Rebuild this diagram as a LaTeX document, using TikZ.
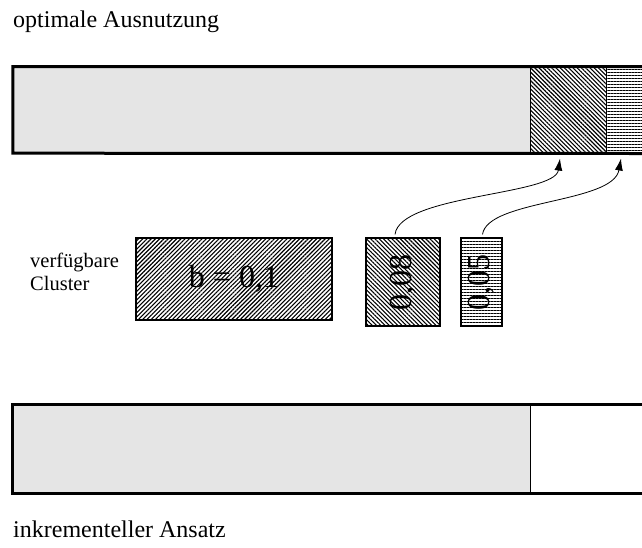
\documentclass[tikz,border=0pt]{standalone}
\usepackage{fontspec}
\setmainfont{Liberation Serif}
\usetikzlibrary{patterns.meta,arrows.meta}
\tikzset{
    seg/.style={inner sep=0pt, minimum height=86pt},
    cluster/.style={draw, line width=1.2pt, inner sep=0pt, font=\fontsize{32}{32}\selectfont},
    lbl/.style={anchor=base west, inner sep=0pt, align=left, font=\fontsize{24}{26}\selectfont},
    move/.style={line width=0.8pt, arrows={-Latex[length=12pt, width=8pt]}},
    belegt/.style={fill=black!10},
    schraeg/.style={pattern={Lines[angle=-45,distance=3pt,line width=1.1pt]}},
    quer/.style={pattern={Lines[angle=0,distance=3pt,line width=1pt]}}
}
\begin{document}
\begin{tikzpicture}[x=1pt,y=-1pt]
            \useasboundingbox (0,0) rectangle (642,547);

            % Texte
            \node[lbl] (titel) at (13,27) {optimale Ausnutzung};
            \node[lbl] (ansatz) at (13,537) {inkrementeller Ansatz};
            \node[lbl, anchor=west, font=\fontsize{20.5}{23}\selectfont] (verf) at (30,272) {verfügbare\\Cluster};

            % Balken oben
            \node[seg, belegt, minimum width=517pt] (oben) at (271.5,110) {};
            \node[seg, schraeg, minimum width=76pt] (hatch) at (568,110) {};
            \node[seg, quer, minimum width=36pt] (streifen) at (624,110) {};
            \draw[line width=1.2pt] (oben.north east) -- (oben.south east);
            \draw[line width=1.2pt] (hatch.north east) -- (hatch.south east);
            \draw[line width=3pt] (streifen.north east) -| (oben.south west) -- (streifen.south east);

            % Balken unten
            \node[seg, belegt, minimum width=517pt, minimum height=88pt] (unten) at (271.5,449) {};
            \node[seg, minimum width=112pt, minimum height=88pt] (frei) at (586,449) {};
            \draw[line width=1.2pt] (unten.north east) -- (unten.south east);
            \draw[line width=3pt] (frei.north east) -| (unten.south west) -- (frei.south east);

            % Cluster
            \node[cluster, pattern={Lines[angle=45,distance=3pt,line width=1.1pt]},
                  minimum width=196pt, minimum height=82pt] (b) at (234,279) {b = 0,1};
            \node[cluster, schraeg, rotate=90, minimum width=88pt, minimum height=74pt] (c08) at (403,282) {0,08};
            \node[cluster, quer, rotate=90, minimum width=88pt, minimum height=41pt] (c05) at (481.5,282) {0,05};

            % Zuordnung
            \draw[move] ([xshift=-8pt,yshift=3pt]c08.east) .. controls +(5,-40) and +(-5,37) .. ([xshift=-8pt,yshift=-5pt]hatch.south);
            \draw[move] ([xshift=1pt,yshift=3pt]c05.east) .. controls +(5,-35) and +(-8,45) .. ([xshift=-3pt,yshift=-5pt]streifen.south);
\end{tikzpicture}
\end{document}
